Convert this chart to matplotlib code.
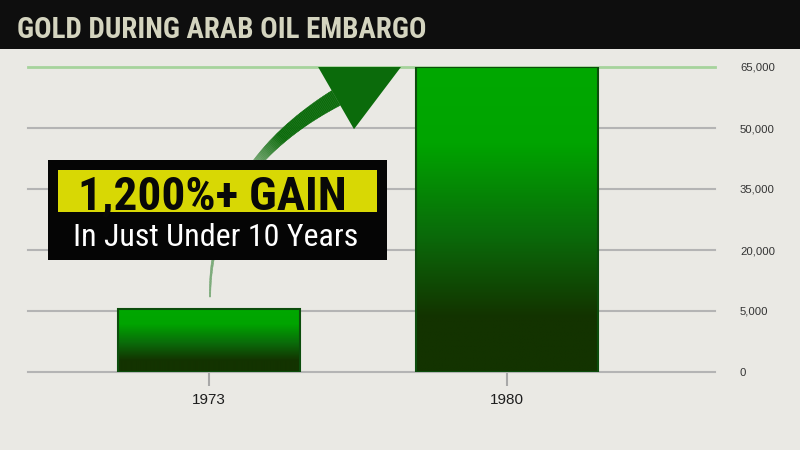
import numpy as np
import matplotlib
matplotlib.use("Agg")
import matplotlib.pyplot as plt
from matplotlib import font_manager as fm
from matplotlib.patches import Rectangle, Polygon
from matplotlib.collections import PolyCollection
from matplotlib.colors import to_rgb

# ---------------- data ----------------
years = ["1973", "1980"]
values = [5500, 65000]
tick_values = [0, 5000, 20000, 35000, 50000, 65000]
tick_labels = ["0", "5,000", "20,000", "35,000", "50,000", "65,000"]
title = "GOLD DURING ARAB OIL EMBARGO"
callout_main = "1,200%+ GAIN"
callout_sub = "In Just Under 10 Years"

# ---------------- fonts ----------------
def pick(names):
    for n in names:
        try:
            fm.findfont(fm.FontProperties(family=n), fallback_to_default=False)
            return n
        except Exception:
            pass
    return "DejaVu Sans"

COND = pick(["Liberation Sans Narrow", "Roboto Condensed", "Open Sans Condensed", "DejaVu Sans"])
REG = pick(["Liberation Sans", "Roboto", "DejaVu Sans"])
plt.rcParams["font.family"] = [REG, "DejaVu Sans"]

W, H = 800, 450
BG = "#eae9e4"
fig = plt.figure(figsize=(8, 4.5), dpi=100, facecolor=BG)


def fx(px):
    return px / W


def fy(py):
    return 1 - py / H


# ---------------- axes with stepped scale ----------------
ax = fig.add_axes([fx(28), fy(372), (715 - 28) / W, (372 - 67) / H])
ax.set_facecolor("none")


def fwd(v):
    v = np.asarray(v, dtype=float)
    return np.where(v <= 5000, v / 5000.0, 1 + (v - 5000) / 15000.0)


def inv(p):
    p = np.asarray(p, dtype=float)
    return np.where(p <= 1, p * 5000.0, 5000 + (p - 1) * 15000.0)


ax.set_yscale("function", functions=(fwd, inv))
xpos = np.arange(len(years))
bars = ax.bar(xpos, values, width=0.611, facecolor="none",
              edgecolor="#0c4d0c", linewidth=1.5, zorder=3)
XL = (-0.607, 1.698)
YL = (0, 65000)
ax.set_xlim(*XL)
ax.set_ylim(*YL)

# gradient fill, relative to each bar's screen height
stops = [(0.0, "#00a800"), (0.25, "#00a400"), (0.55, "#0a6b0a"),
         (0.82, "#133300"), (1.0, "#133300")]
pos = np.linspace(0, 1, 256)
sp = [s[0] for s in stops]
cols = np.array([to_rgb(s[1]) for s in stops])
grad = np.stack([np.interp(pos, sp, cols[:, i]) for i in range(3)], axis=-1)[:, None, :]

to_axes = ax.transAxes.inverted()
for b in bars:
    x0, y0 = to_axes.transform(ax.transData.transform((b.get_x(), 0)))
    x1, y1 = to_axes.transform(ax.transData.transform((b.get_x() + b.get_width(), b.get_height())))
    im = ax.imshow(grad, extent=(x0, x1, y0, y1), transform=ax.transAxes,
                   aspect="auto", origin="upper", interpolation="bilinear", zorder=2.5)
    im.set_clip_path(b)
ax.set_xlim(*XL)
ax.set_ylim(*YL)

# ticks / grid
ax.set_yticks(tick_values, tick_labels)
ax.yaxis.tick_right()
ax.tick_params(axis="y", length=0, pad=18, labelsize=8.2, labelcolor="#333333")
ax.set_xticks(xpos, years)
ax.tick_params(axis="x", length=10, width=1.5, color="#a8a8a8", pad=5,
               labelsize=11, labelcolor="#1e1e1e")
ax.yaxis.set_minor_locator(matplotlib.ticker.NullLocator())
for s in ax.spines.values():
    s.set_visible(False)
ax.grid(axis="y", color="#b4b4b4", linewidth=1.5)
ax.set_axisbelow(True)
gls = ax.yaxis.get_gridlines()
for g in gls:
    g.set_clip_on(False)
gls[-1].set_color("#a6d39c")
gls[-1].set_linewidth(2)

# ---------------- curved arrow (pixel design -> figure fraction) ----------------
GREEN = np.array(to_rgb("#0b6b0b"))
bgc = np.array(to_rgb(BG))
P0 = np.array([210.0, 297.0])
Q = np.array([210.0, 170.7])
C = np.array([336.0, 98.0])
t = np.linspace(0, 1, 160)[:, None]
pts = (1 - t) ** 2 * P0 + 2 * (1 - t) * t * Q + t ** 2 * C
der = 2 * (1 - t) * (Q - P0) + 2 * t * (C - Q)
der = der / np.linalg.norm(der, axis=1, keepdims=True)
nrm = np.column_stack([-der[:, 1], der[:, 0]])
wid = (1.5 + 15.5 * t[:, 0] ** 1.5)[:, None]
left = pts + nrm * wid / 2
right = pts - nrm * wid / 2


def tofig(p):
    p = np.asarray(p, dtype=float)
    return np.column_stack([p[:, 0] / W, 1 - p[:, 1] / H])


quads, fcs = [], []
tt = t[:, 0]
for i in range(len(tt) - 1):
    q = np.array([left[i], left[i + 1], right[i + 1], right[i]])
    quads.append(tofig(q))
    a = np.clip(0.5 + (tt[i] - 0.6) / 0.15 * 0.5, 0.5, 1.0)
    fcs.append(tuple(a * GREEN + (1 - a) * bgc))
pc = PolyCollection(quads, facecolors=fcs, edgecolors=fcs, linewidths=0.3,
                    transform=fig.transFigure, zorder=4)
ax.add_collection(pc, autolim=False)

d = der[-1]
pn = np.array([-d[1], d[0]])
tip = C + 85 * d
B1 = C + 36 * pn
B2 = C - 36 * pn
head = Polygon(tofig([B1, tip, B2]), closed=True, facecolor=GREEN,
               edgecolor="none", transform=fig.transFigure, zorder=4)
ax.add_patch(head)
ax.set_xlim(*XL)
ax.set_ylim(*YL)

# ---------------- title bar ----------------
fig.add_artist(Rectangle((0, fy(49)), 1, 49 / H, transform=fig.transFigure,
                         facecolor="#0e0e0e", edgecolor="none", zorder=4))
renderer = fig.canvas.get_renderer()


def fit(txt, target_w, max_size):
    txt.set_fontsize(max_size)
    w = txt.get_window_extent(renderer).width
    if w > target_w:
        txt.set_fontsize(max_size * target_w / w)


tt_title = fig.text(fx(17), fy(38), title, ha="left", va="baseline",
                    color="#d4d4bf", fontweight="bold",
                    family=[COND, "DejaVu Sans"], zorder=6)
fit(tt_title, 411, 26)

# ---------------- callout box ----------------
fig.add_artist(Rectangle((fx(48), fy(260)), (387 - 48) / W, (260 - 160) / H,
                         transform=fig.transFigure, facecolor="#050505",
                         edgecolor="none", zorder=5))
fig.add_artist(Rectangle((fx(58), fy(212)), (377 - 58) / W, (212 - 170) / H,
                         transform=fig.transFigure, facecolor="#d8d804",
                         edgecolor="none", zorder=5.5))
t_main = fig.text(fx(212), fy(209), callout_main, ha="center", va="baseline",
                  color="#080808", fontweight="bold",
                  family=[COND, "DejaVu Sans"], zorder=6)
fit(t_main, 287, 34)
t_sub = fig.text(fx(216), fy(246), callout_sub, ha="center", va="baseline",
                 color="white", family=[COND, "DejaVu Sans"], zorder=6)
fit(t_sub, 293, 23)

fig.savefig("out.png", dpi=100, facecolor=fig.get_facecolor())
